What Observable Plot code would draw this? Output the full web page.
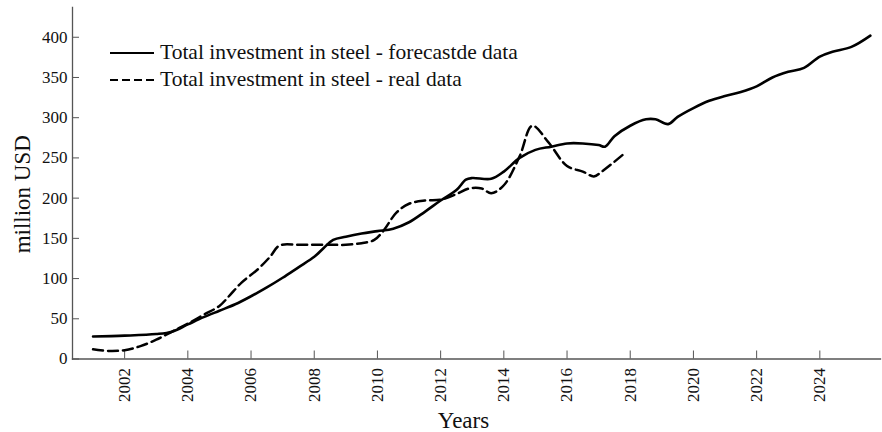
<!DOCTYPE html>
<html>
<head>
<meta charset="utf-8">
<script src="https://cdn.jsdelivr.net/npm/d3@7"></script>
<script src="https://cdn.jsdelivr.net/npm/@observablehq/plot@0.6"></script>
<style>
  html, body { margin: 0; padding: 0; background: #fff; }
  #wrap { position: relative; width: 882px; height: 432px; }
  #legend { position: absolute; left: 110px; top: 39px; font-family: "Liberation Serif", serif; font-size: 21.5px; color: #111; }
  #legend .row { display: flex; align-items: center; height: 27px; }
  #legend svg { margin-right: 6px; }
</style>
</head>
<body>
<div id="wrap"></div>
<script>
// Forecast (solid) series
const forecastYears = [2001.0, 2002.0, 2003.0, 2003.5, 2004.0, 2004.5, 2005.0, 2005.5, 2006.0, 2006.5,
  2007.0, 2007.5, 2008.0, 2008.3, 2008.6, 2009.0, 2009.5, 2010.0, 2010.5, 2011.0,
  2011.5, 2012.0, 2012.5, 2012.8, 2013.0, 2013.6, 2014.0, 2014.5, 2015.0, 2015.5,
  2016.0, 2016.5, 2017.0, 2017.2, 2017.5, 2018.0, 2018.5, 2018.8, 2019.2, 2019.5,
  2020.0, 2020.5, 2021.0, 2021.5, 2022.0, 2022.5, 2023.0, 2023.5, 2024.0, 2024.4,
  2025.0, 2025.6];
const forecastValues = [28, 29, 31, 34, 43, 52, 60, 68, 78, 89,
  101, 114, 127, 138, 148, 152, 156, 159, 162, 170,
  183, 197, 210, 223, 225, 224, 233, 250, 260, 264,
  268, 268, 266, 264, 277, 290, 298, 298, 292, 301,
  312, 321, 327, 332, 339, 350, 357, 362, 376, 382,
  388, 402];

// Real (dashed) series
const realYears = [2001.0, 2001.5, 2002.0, 2002.5, 2003.0, 2003.5, 2004.0, 2004.5, 2005.0, 2005.3,
  2005.7, 2006.2, 2006.6, 2006.9, 2007.5, 2008.0, 2008.5, 2009.0, 2009.5, 2009.9,
  2010.2, 2010.6, 2011.0, 2011.5, 2012.0, 2012.5, 2012.9, 2013.3, 2013.6, 2014.0,
  2014.5, 2014.9, 2015.4, 2016.0, 2016.5, 2016.85, 2017.1, 2017.8];
const realValues = [12, 10, 11, 16, 24, 34, 44, 55, 66, 78,
  95, 111, 127, 141, 142, 142, 142, 142, 144, 148,
  160, 182, 193, 197, 198, 205, 212, 212, 206, 216,
  252, 290, 270, 240, 233, 227, 233, 255];

const xTicks = [2002, 2004, 2006, 2008, 2010, 2012, 2014, 2016, 2018, 2020, 2022, 2024];
const yTicks = [0, 50, 100, 150, 200, 250, 300, 350, 400];
const seriesLabels = ["Total investment in steel - forecastde data", "Total investment in steel - real data"];
const xTitle = "Years";
const yTitle = "million USD";

const forecast = forecastYears.map((yr, i) => ({year: yr, value: forecastValues[i]}));
const real = realYears.map((yr, i) => ({year: yr, value: realValues[i]}));

const axisColor = "#555";
const chart = Plot.plot({
  width: 882,
  height: 432,
  marginLeft: 72,
  marginRight: 2,
  marginTop: 7,
  marginBottom: 73.5,
  x: {domain: [2000.35, 2025.92]},
  y: {domain: [0, 437]},
  style: {fontFamily: "Liberation Serif, serif", fontSize: "17px", color: "#111", background: "#fff"},
  marks: [
    Plot.frame({anchor: "left", stroke: axisColor, strokeWidth: 1.3}),
    Plot.frame({anchor: "bottom", stroke: axisColor, strokeWidth: 1.3}),
    Plot.axisY(yTicks, {tickSize: 7, dx: 7, tickFormat: () => "", label: null, stroke: axisColor}),
    Plot.axisY(yTicks, {tickSize: 0, tickPadding: 5, label: null, fontSize: 17, fill: "#111"}),
    Plot.axisX(xTicks, {tickSize: 8, dy: -8, tickFormat: () => "", label: null, stroke: axisColor}),
    Plot.axisX(xTicks, {tickSize: 0, tickPadding: 9, tickRotate: -90, label: null, fontSize: 17, fill: "#111", tickFormat: d => String(d)}),
    Plot.line(real, {x: "year", y: "value", stroke: "#000", strokeWidth: 2.5, strokeDasharray: "10,5", curve: "catmull-rom"}),
    Plot.line(forecast, {x: "year", y: "value", stroke: "#000", strokeWidth: 2.6, curve: "catmull-rom"}),
    Plot.text([xTitle], {frameAnchor: "bottom", textAnchor: "middle", dx: -13, dy: 69, lineAnchor: "bottom", fontSize: 23, fill: "#111"}),
    Plot.text([yTitle], {frameAnchor: "left", textAnchor: "middle", dx: -50, dy: 11, rotate: -90, fontSize: 23, fill: "#111"})
  ]
});

const wrap = document.getElementById("wrap");
wrap.appendChild(chart);

const legend = document.createElement("div");
legend.id = "legend";
seriesLabels.forEach((lab, i) => {
  const row = document.createElement("div");
  row.className = "row";
  const dash = i === 1 ? 'stroke-dasharray="8,4"' : '';
  row.innerHTML = `<svg width="44" height="10"><line x1="0" y1="5" x2="44" y2="5" stroke="#000" stroke-width="2.2" ${dash}/></svg><span>${lab}</span>`;
  legend.appendChild(row);
});
wrap.appendChild(legend);
</script>
</body>
</html>
